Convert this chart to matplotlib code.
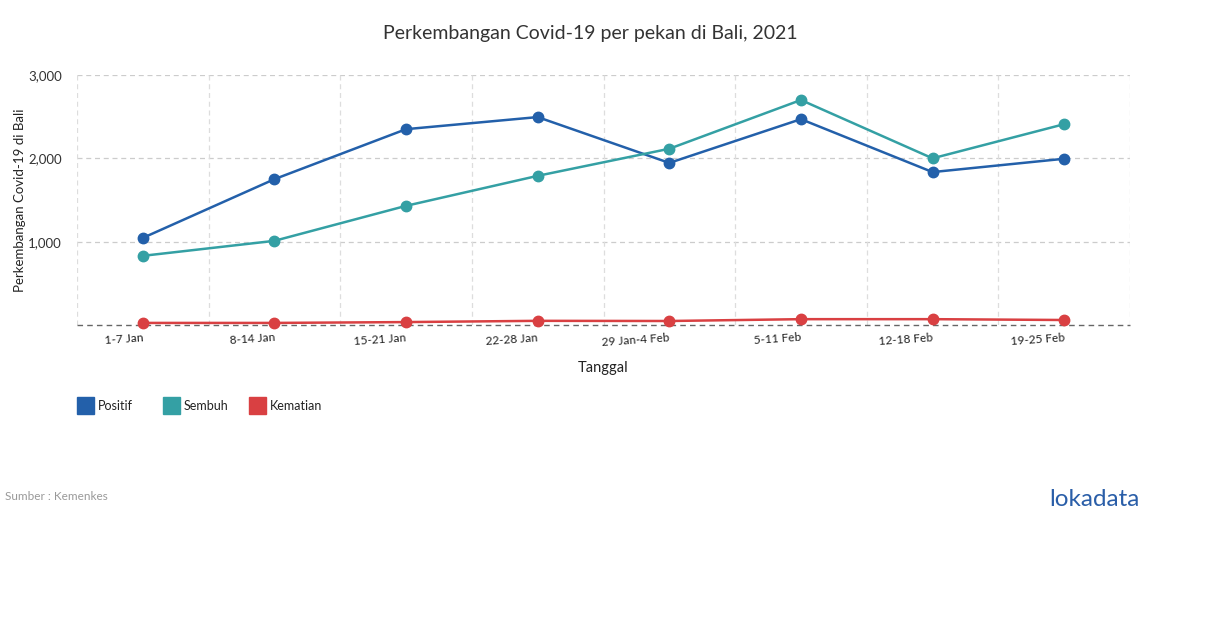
import matplotlib
matplotlib.use("Agg")
import matplotlib.pyplot as plt
from matplotlib.patches import Rectangle

categories = ["1-7 Jan", "8-14 Jan", "15-21 Jan", "22-28 Jan", "29 Jan-4 Feb",
              "5-11 Feb", "12-18 Feb", "19-25 Feb"]
positif = [1045, 1750, 2350, 2495, 1945, 2470, 1835, 1995]
sembuh = [830, 1010, 1430, 1790, 2115, 2700, 2000, 2410]
kematian = [25, 25, 35, 50, 48, 70, 70, 60]
series_names = ["Positif", "Sembuh", "Kematian"]
colors = ["#2360AA", "#34A0A4", "#D94042"]

plt.rcParams['font.family'] = ['Lato', 'DejaVu Sans']

W, H = 1210, 628
fig = plt.figure(figsize=(W / 100, H / 100), dpi=100)
ax = fig.add_axes([77 / W, 1 - 325 / H, (1130 - 77) / W, (325 - 75) / H])

x = list(range(len(categories)))
for vals, c in zip([positif, sembuh, kematian], colors):
    ax.plot(x, vals, color=c, lw=1.8, marker='o', ms=7.5, zorder=3, clip_on=False)

ax.set_xlim(-0.5, len(categories) - 0.5)
ax.set_ylim(0, 3000)
ax.set_yticks([1000, 2000, 3000])
ax.set_yticklabels(["1,000", "2,000", "3,000"], fontsize=9.5, color="#333333")
ax.set_xticks(x)
ax.set_xticklabels(categories, fontsize=8.5, color="#222222", rotation=4,
                   ha='right', va='top', rotation_mode='anchor')
ax.tick_params(axis='y', length=0, pad=11)
ax.tick_params(axis='x', length=0, pad=5)

for v in [1000, 2000, 3000]:
    ax.axhline(v, color="#cccccc", lw=0.9, ls=(0, (4, 3)), zorder=1)
for i in range(len(categories)):
    ax.axvline(i + 0.5, color="#dddddd", lw=0.9, ls=(0, (4, 3)), zorder=1)
ax.axvline(-0.5, color="#dddddd", lw=0.9, ls=(0, (4, 3)), zorder=1)
ax.axhline(0, color="#666666", lw=1.0, ls=(0, (4, 3)), zorder=2, clip_on=False)
for s in ax.spines.values():
    s.set_visible(False)

ax.set_xlabel("Tanggal", fontsize=10.5, color="#222222")
ax.xaxis.set_label_coords((603 - 77) / (1130 - 77), -(368 - 325) / 250)
ax.xaxis.label.set_va('center')
ax.set_ylabel("Perkembangan Covid-19 di Bali", fontsize=9.5, color="#222222")
ax.yaxis.set_label_coords(-(77 - 20) / (1130 - 77), (325 - 200) / 250)
ax.yaxis.label.set_va('center')

fig.text(590 / W, 1 - 33 / H, "Perkembangan Covid-19 per pekan di Bali, 2021",
         ha='center', va='center', fontsize=14, color="#333333")

# legend
lx = [77, 163, 249]
for name, c, px in zip(series_names, colors, lx):
    fig.patches.append(Rectangle((px / W, 1 - 414 / H), 17 / W, 17 / H,
                                 transform=fig.transFigure, color=c, figure=fig))
    fig.text((px + 21) / W, 1 - 406 / H, name, ha='left', va='center',
             fontsize=9, color="#222222")

fig.text(5 / W, 1 - 497 / H, "Sumber : Kemenkes", ha='left', va='center',
         fontsize=8.5, color="#999999")
fig.text(1140 / W, 1 - 499 / H, "lokadata", ha='right', va='center',
         fontsize=17.5, color="#2A5EA8")

fig.savefig("out.png", dpi=100, facecolor="white")
